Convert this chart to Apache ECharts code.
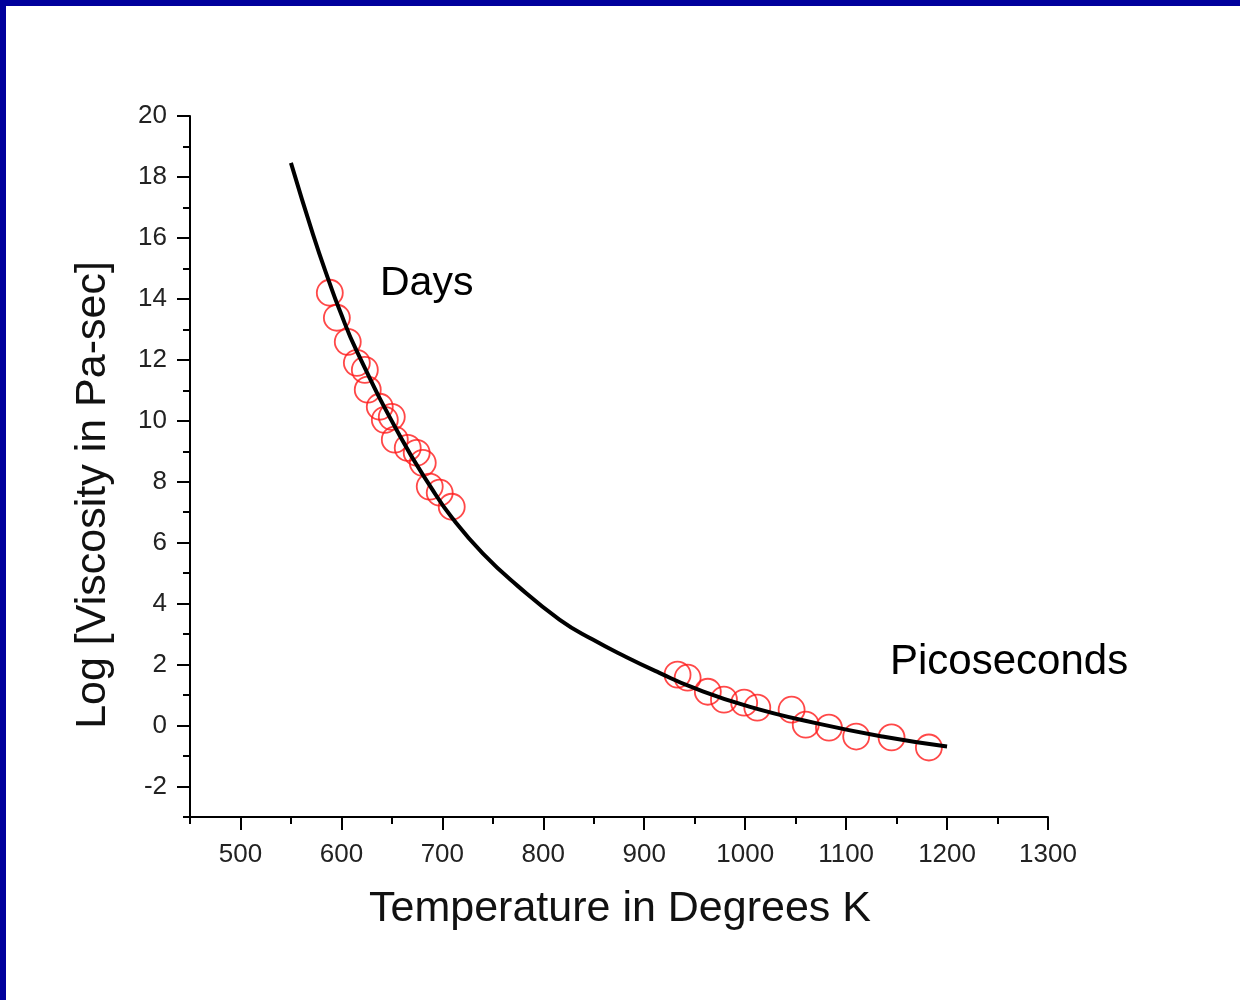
<!DOCTYPE html>
<html>
<head>
<meta charset="utf-8">
<script src="https://cdn.jsdelivr.net/npm/echarts@6/dist/echarts.min.js"></script>
<style>
    html, body { margin: 0; padding: 0; background: #fff; }
    #wrap { position: relative; width: 1240px; height: 1000px; overflow: hidden; }
    #chart { position: absolute; left: 0; top: 0; width: 1240px; height: 1000px; }
    .bar { position: absolute; background: #00009c; }
</style>
</head>
<body>
<div id="wrap">
    <div id="chart"></div>
    <div class="bar" style="left:0;top:0;width:1240px;height:6px"></div>
    <div class="bar" style="left:0;top:0;width:6px;height:1000px"></div>
</div>
<script>
// 测量点 (温度 K, log 粘度)
const daysPoints = [
    [588.5, 14.20], [595.5, 13.38], [606.3, 12.59], [615.3, 11.90],
    [623.2, 11.67], [626.1, 11.02], [638.0, 10.46], [643.0, 10.03],
    [649.9, 10.13], [652.9, 9.38], [665.7, 9.11], [674.6, 8.95],
    [680.6, 8.62], [687.5, 7.84], [697.4, 7.64], [709.3, 7.18]
]
const picoPoints = [
    [933, 1.67], [943, 1.57], [963, 1.11], [979, 0.85],
    [999, 0.75], [1012, 0.59], [1046, 0.52], [1060, 0.03],
    [1083, -0.07], [1110, -0.36], [1145, -0.39], [1182, -0.72]
]
// 拟合曲线
const fitCurve = [
    [550, 18.46], [572, 16.1], [588.5, 14.5], [598, 13.65], [615, 12.3],
    [658, 9.5], [690, 7.75], [710, 6.8], [740, 5.65], [774, 4.6],
    [816, 3.48], [849, 2.82], [882, 2.25], [915, 1.73], [948, 1.25],
    [1004, 0.62], [1070, 0.08], [1136, -0.36], [1200, -0.69]
]
const xTicks = [500, 600, 700, 800, 900, 1000, 1100, 1200, 1300]
const xMinorTicks = [450, 550, 650, 750, 850, 950, 1050, 1150, 1250]
const yTicks = [-2, 0, 2, 4, 6, 8, 10, 12, 14, 16, 18, 20]
const yMinorTicks = [-3, -1, 1, 3, 5, 7, 9, 11, 13, 15, 17, 19]

const FONT = '"Liberation Sans", Arial, Helvetica, sans-serif'
const axisColor = '#000'

function majorAxis( type, ticks, min, max ) {
    return {
        type: 'value',
        min,
        max,
        position: type == 'x' ? 'bottom' : 'left',
        axisLine: { show: true, onZero: false, lineStyle: { color: axisColor, width: 2 } },
        axisTick: { show: true, customValues: ticks, length: 13, lineStyle: { color: axisColor, width: 2 } },
        axisLabel: {
            customValues: ticks,
            formatter: v => String( v ),
            fontSize: 26,
            fontFamily: FONT,
            color: '#222',
            margin: type == 'x' ? 25 : 23
        },
        splitLine: { show: false }
    }
}
function minorAxis( type, ticks, min, max ) {
    return {
        type: 'value',
        min,
        max,
        position: type == 'x' ? 'bottom' : 'left',
        axisLine: { show: false, onZero: false },
        axisTick: { show: true, customValues: ticks, length: 7, lineStyle: { color: axisColor, width: 2 } },
        axisLabel: { show: false },
        splitLine: { show: false }
    }
}

const chart = echarts.init( document.getElementById( 'chart' ) )
chart.setOption( {
    animation: false,
    grid: { left: 190, right: 192, top: 116, bottom: 183 },
    xAxis: [ majorAxis( 'x', xTicks, 450, 1300 ), minorAxis( 'x', xMinorTicks, 450, 1300 ) ],
    yAxis: [ majorAxis( 'y', yTicks, -3, 20 ), minorAxis( 'y', yMinorTicks, -3, 20 ) ],
    series: [
        {
            type: 'scatter',
            data: daysPoints.concat( picoPoints ),
            symbol: 'circle',
            symbolSize: 26,
            itemStyle: { color: 'rgba(0,0,0,0)', borderColor: '#ff1a1a', borderWidth: 1.8 }
        },
        {
            type: 'line',
            data: fitCurve,
            smooth: 0.5,
            showSymbol: false,
            lineStyle: { color: '#000', width: 4 }
        }
    ],
    graphic: [
        {
            type: 'text', x: 380, y: 284,
            style: { text: 'Days', fontSize: 41, fontFamily: FONT, fill: '#000', align: 'left', verticalAlign: 'middle' }
        },
        {
            type: 'text', x: 890, y: 662,
            style: { text: 'Picoseconds', fontSize: 42, fontFamily: FONT, fill: '#000', align: 'left', verticalAlign: 'middle' }
        },
        {
            type: 'text', x: 620, y: 909,
            style: { text: 'Temperature in Degrees K', fontSize: 43, fontFamily: FONT, fill: '#111', align: 'center', verticalAlign: 'middle' }
        },
        {
            type: 'text', x: 93, y: 495, rotation: Math.PI / 2,
            style: { text: 'Log [Viscosity in Pa-sec]', fontSize: 43, fontFamily: FONT, fill: '#111', align: 'center', verticalAlign: 'middle' }
        }
    ]
} )
</script>
</body>
</html>
